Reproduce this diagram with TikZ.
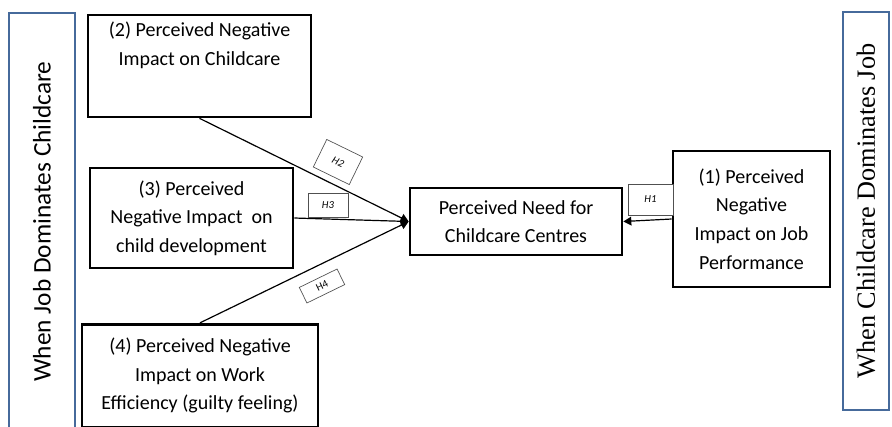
\documentclass[tikz,border=0pt]{standalone}
\usepackage{fontspec}
\setmainfont{Carlito}
\newfontfamily\timesfont{Liberation Serif}
\usetikzlibrary{arrows.meta,positioning}
\definecolor{BandBlue}{RGB}{70,106,155}
\definecolor{TagLine}{RGB}{80,80,80}

\begin{document}
\begin{tikzpicture}[x=0.75pt,y=-0.75pt,>={Triangle[length=6pt,width=6.5pt]}]
  \tikzset{
    band/.style={draw=BandBlue,line width=2pt,rotate=90,inner sep=0pt},
    factor/.style={draw=black,line width=2pt,align=center,inner sep=0pt,font=\fontsize{15}{21.4}\selectfont},
    tag/.style={draw=TagLine,line width=0.5pt,fill=white,inner sep=0pt,font=\fontsize{8}{9}\selectfont\itshape},
    link/.style={->,line width=0.9pt}
  }
  \useasboundingbox (0,0) rectangle (892,426);
  % side bands
  \node[band,minimum width=312.75pt,minimum height=49.5pt,font=\fontsize{19}{22}\selectfont] (jobdom) at (42,221.5) {When Job Dominates Childcare};
  \node[band,minimum width=298.5pt,minimum height=34.5pt,font=\timesfont\fontsize{19.7}{22}\selectfont] (caredom) at (866,211) {When Childcare Dominates Job};
  % factors
  \node[factor,minimum width=167.25pt,minimum height=76.5pt] (neg2) at (199.5,66) {};
  \node[align=center,inner sep=0pt,font=\fontsize{15}{21.4}\selectfont,anchor=north] (neg2txt) at ([yshift=-6pt]neg2.north) {(2) Perceived Negative\\Impact on Childcare};
  \node[factor,minimum width=152.25pt,minimum height=75pt] (neg3) at (191.5,218) {(3) Perceived\\Negative Impact\ \ on\\child development};
  \node[factor,minimum width=177pt,minimum height=77pt] (neg4) at (200,375.5) {(4) Perceived Negative\\Impact on Work\\Efficiency (guilty feeling)};
  \node[factor,minimum width=159pt,minimum height=50.25pt] (need) at (516,221.5) {Perceived Need for\\Childcare Centres};
  \node[factor,minimum width=117.75pt,minimum height=102pt] (neg1) at (751.5,219) {(1) Perceived\\Negative\\Impact on Job\\Performance};
  % links
  \draw[link] (neg2.south) -- (need.west);
  \draw[link] (neg3.east) -- (need.west);
  \draw[link] (neg4.north) -- (need.west);
  \draw[link] (neg1.west) -- (need.east);
  % hypothesis tags
  \node[tag,minimum width=33.75pt,minimum height=23.25pt] (h1) at (650.5,199.5) {H1};
  \node[tag,minimum width=30pt,minimum height=23pt,rotate=-26] (h2) at (338,162) {H2};
  \node[tag,minimum width=30pt,minimum height=18pt] (h3) at (328,205) {H3};
  \node[tag,minimum width=31.5pt,minimum height=13pt,rotate=26,font=\fontsize{8}{9}\selectfont] (h4) at (322,286) {H4};
\end{tikzpicture}
\end{document}
